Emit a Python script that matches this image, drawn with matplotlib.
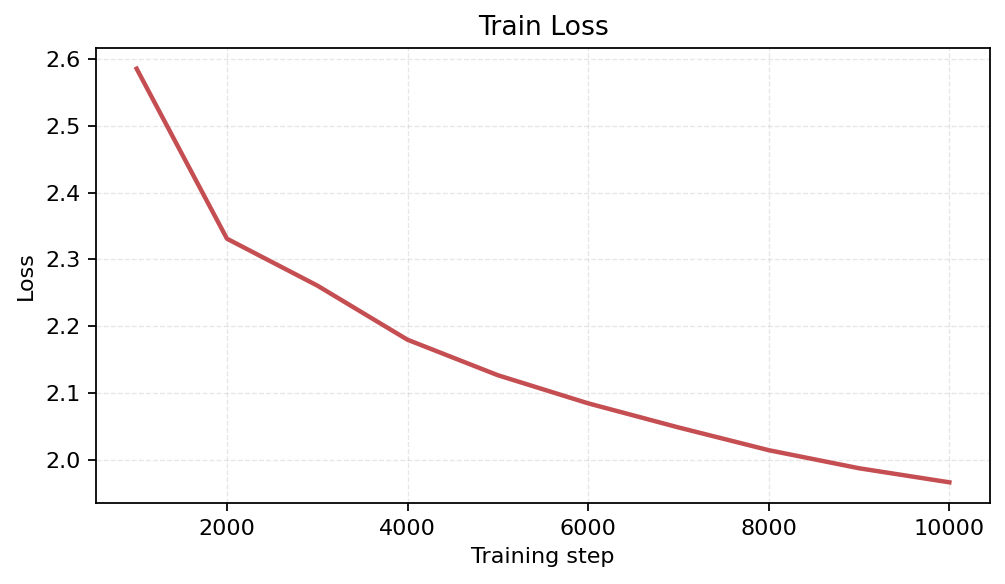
import numpy as np
import matplotlib
matplotlib.use("Agg")
import matplotlib.pyplot as plt

steps = [1000, 2000, 3000, 4000, 5000, 6000, 7000, 8000, 9000, 10000]
loss = [2.585, 2.331, 2.261, 2.180, 2.127, 2.085, 2.049, 2.015, 1.988, 1.967]

fig, ax = plt.subplots(figsize=(1005 / 160, 584 / 160), dpi=160)
ax.plot(steps, loss, color="#c44e52", linewidth=2)
ax.set_title("Train Loss")
ax.set_xlabel("Training step")
ax.set_ylabel("Loss")
ax.grid(True, linestyle="--", alpha=0.3, linewidth=0.6)
fig.subplots_adjust(left=96 / 1005, right=990 / 1005, top=1 - 48 / 584, bottom=1 - 503 / 584)
fig.savefig("out.png", dpi=160)
